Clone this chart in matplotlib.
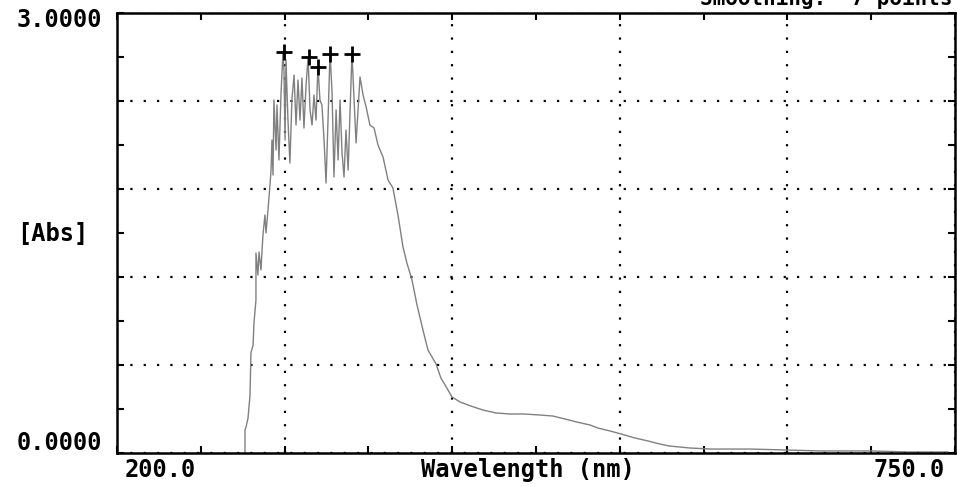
import numpy as np
import matplotlib.pyplot as plt
from matplotlib.ticker import FixedLocator

# spectrum (wavelength nm, absorbance)
wavelength = [284.0, 284.0, 284.7, 286.0, 287.3, 287.9, 289.3, 289.9, 291.2, 291.2,
              292.5, 293.2, 294.5, 295.2, 295.8, 297.1, 297.8, 299.1, 300.4, 301.1,
              301.7, 302.4, 303.0, 304.4, 305.0, 306.3, 307.6, 308.9, 309.6, 310.3,
              310.9, 312.2, 313.5, 314.8, 316.2, 317.5, 318.8, 320.1, 321.4, 322.7,
              324.1, 325.4, 326.7, 328.0, 329.3, 330.6, 331.9, 333.2, 334.5, 335.9,
              337.2, 338.5, 339.8, 341.1, 342.4, 343.8, 345.1, 346.4, 347.7, 349.0,
              350.3, 351.7, 353.0, 354.2, 355.6, 356.9, 358.2, 359.5, 361.5, 363.5,
              366.0, 368.7, 371.3, 374.6, 377.9, 381.1, 384.4, 387.7, 390.3, 393.6,
              396.9, 400.8, 404.1, 409.4, 412.6, 415.3, 419.9, 425.1, 432.3, 440.2,
              448.7, 457.9, 467.1, 477.6, 486.1, 494.0, 501.9, 510.4, 515.7, 523.6,
              530.8, 540.0, 548.5, 556.4, 562.3, 576.1, 589.8, 615.4, 641.0, 661.4,
              694.2, 720.4, 745.4]
absorbance = [0.0, 0.157, 0.177, 0.239, 0.395, 0.682, 0.736, 0.886, 1.043, 1.364,
              1.214, 1.370, 1.248, 1.384, 1.486, 1.623, 1.500, 1.657, 1.827, 1.929,
              2.134, 1.895, 2.407, 2.066, 2.373, 1.998, 2.441, 2.727, 2.611, 2.134,
              2.680, 2.270, 1.977, 2.407, 2.577, 2.236, 2.543, 2.270, 2.557, 2.216,
              2.509, 2.700, 2.339, 2.236, 2.441, 2.270, 2.632, 2.407, 2.373, 2.134,
              1.841, 2.270, 2.727, 2.475, 1.882, 2.339, 1.998, 2.407, 2.045, 1.882,
              2.202, 1.929, 2.339, 2.727, 2.407, 2.114, 2.339, 2.564, 2.441, 2.359,
              2.236, 2.216, 2.100, 2.018, 1.861, 1.807, 1.623, 1.405, 1.295, 1.180,
              1.009, 0.839, 0.702, 0.607, 0.511, 0.464, 0.382, 0.348, 0.320, 0.293,
              0.273, 0.266, 0.266, 0.259, 0.252, 0.232, 0.211, 0.191, 0.170, 0.150,
              0.130, 0.102, 0.082, 0.061, 0.048, 0.034, 0.027, 0.027, 0.020, 0.014,
              0.014, 0.007, 0.007]

# picked peaks
peak_wl = [309.6, 326.0, 331.9, 339.8, 354.2]
peak_abs = [2.734, 2.700, 2.632, 2.720, 2.720]

# axis divided in 5 parts, minor ticks halfway
x_major = [200, 310, 420, 530, 640, 750]
x_minor = [255, 365, 475, 585, 695]
y_major = [0, 0.6, 1.2, 1.8, 2.4, 3.0]
y_minor = [0.3, 0.9, 1.5, 2.1, 2.7]

W, H = 957, 487
fig = plt.figure(figsize=(W / 100, H / 100), dpi=100)
ax = fig.add_axes([117 / W, 1 - 453 / H, (955 - 117) / W, (453 - 13) / H])

ax.plot(wavelength, absorbance, color='#808080', lw=1.0)
ax.plot(peak_wl, peak_abs, ls='none', marker='+', color='black', ms=12, mew=2)

ax.set_xlim(200, 750)
ax.set_ylim(0, 3)
ax.xaxis.set_major_locator(FixedLocator(x_major))
ax.xaxis.set_minor_locator(FixedLocator(x_minor))
ax.yaxis.set_major_locator(FixedLocator(y_major))
ax.yaxis.set_minor_locator(FixedLocator(y_minor))
ax.tick_params(which='both', direction='in', top=True, right=True,
               length=5, width=1.5, labelbottom=False, labelleft=False)
ax.grid(True, which='major', color='black', ls=(0, (1, 5)), lw=1.6)
for s in ax.spines.values():
    s.set_linewidth(1.8)

font = dict(family='DejaVu Sans Mono', weight='bold', fontsize=17)

def px(x, y, s, ha, **kw):
    f = dict(font)
    f.update(kw)
    fig.text(x / W, 1 - y / H, s, ha=ha, va='center', **f)

px(102, 20, '3.0000', 'right')
px(102, 443, '0.0000', 'right')
px(88, 234, '[Abs]', 'right')
px(125, 470, '200.0', 'left')
px(528, 470, 'Wavelength (nm)', 'center')
px(945, 470, '750.0', 'right')
px(952, -2, 'Smoothing:  7 points', 'right', fontsize=15)

fig.savefig('out.png', dpi=100)
